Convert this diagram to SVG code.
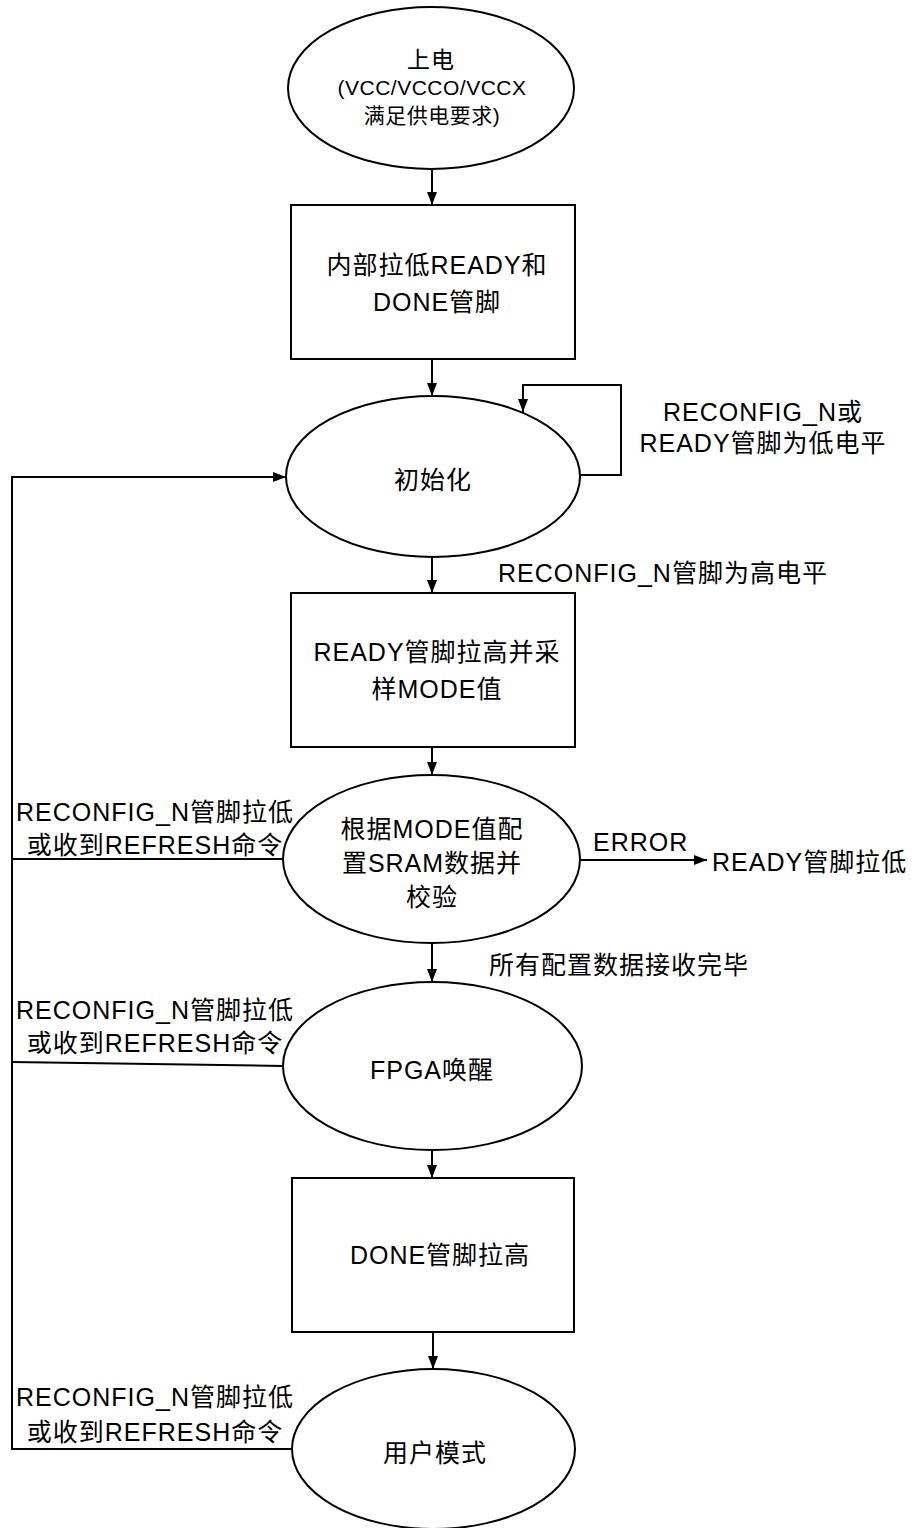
<svg xmlns="http://www.w3.org/2000/svg" width="915" height="1528" viewBox="0 0 915 1528">
<style>
.shape{fill:#fff;stroke:#000;stroke-width:2}
.ln{fill:none;stroke:#000;stroke-width:2}
text{font-family:"Liberation Sans","Noto Sans CJK SC",sans-serif;font-size:25px;letter-spacing:1px;fill:#000}
.c{text-anchor:middle}
.s22{font-size:21px;letter-spacing:0.5px}
</style>
<defs>
<marker id="arr" markerUnits="userSpaceOnUse" markerWidth="14" markerHeight="10" refX="13" refY="5" orient="auto">
<path d="M0,0 L13,5 L0,10 z" fill="#000"/>
</marker>
</defs>
<rect width="915" height="1528" fill="#fff"/>
<g id="connectors">
<line class="ln" x1="432" y1="169" x2="432" y2="205" marker-end="url(#arr)"/>
<line class="ln" x1="432" y1="359" x2="432" y2="396" marker-end="url(#arr)"/>
<polyline class="ln" points="580,475 621,475 621,385 523,385 523,412" marker-end="url(#arr)"/>
<line class="ln" x1="432" y1="557" x2="432" y2="593" marker-end="url(#arr)"/>
<line class="ln" x1="432" y1="747" x2="432" y2="775" marker-end="url(#arr)"/>
<line class="ln" x1="580" y1="860" x2="707" y2="860" marker-end="url(#arr)"/>
<line class="ln" x1="432" y1="943" x2="432" y2="982" marker-end="url(#arr)"/>
<line class="ln" x1="432" y1="1150" x2="432" y2="1178" marker-end="url(#arr)"/>
<line class="ln" x1="433" y1="1332" x2="433" y2="1369" marker-end="url(#arr)"/>
<polyline class="ln" points="292,1449 12,1449 12,477 286,477" marker-end="url(#arr)"/>
<line class="ln" x1="283" y1="859" x2="12" y2="859"/>
<line class="ln" x1="283" y1="1066" x2="12" y2="1062"/>
<text x="763" y="421" class="c">RECONFIG_N或</text>
<text x="763" y="452" class="c">READY管脚为低电平</text>
<text x="498" y="582">RECONFIG_N管脚为高电平</text>
<text x="155" y="821" class="c">RECONFIG_N管脚拉低</text>
<text x="155" y="854" class="c">或收到REFRESH命令</text>
<text x="593" y="851">ERROR</text>
<text x="712" y="871">READY管脚拉低</text>
<text x="489" y="974">所有配置数据接收完毕</text>
<text x="155" y="1019" class="c">RECONFIG_N管脚拉低</text>
<text x="155" y="1052" class="c">或收到REFRESH命令</text>
<text x="155" y="1406" class="c">RECONFIG_N管脚拉低</text>
<text x="155" y="1441" class="c">或收到REFRESH命令</text>
</g>
<g id="power-on">
<ellipse class="shape" cx="431" cy="88" rx="143" ry="81"/>
<text x="431" y="68" class="c" style="font-size:23px">上电</text>
<text x="432" y="95" class="c s22">(VCC/VCCO/VCCX</text>
<text x="432" y="123" class="c s22">满足供电要求)</text>
</g>
<g id="pull-low">
<rect class="shape" x="291" y="205" width="284" height="154"/>
<text x="437" y="274" class="c">内部拉低READY和</text>
<text x="437" y="311" class="c">DONE管脚</text>
</g>
<g id="init">
<ellipse class="shape" cx="433" cy="476.5" rx="147" ry="80.5"/>
<text x="433" y="489" class="c">初始化</text>
</g>
<g id="ready-high">
<rect class="shape" x="291" y="593" width="284" height="154"/>
<text x="437" y="661" class="c">READY管脚拉高并采</text>
<text x="437" y="698" class="c">样MODE值</text>
</g>
<g id="config">
<ellipse class="shape" cx="431.5" cy="859" rx="148.5" ry="84"/>
<text x="432" y="838" class="c">根据MODE值配</text>
<text x="432" y="872" class="c">置SRAM数据并</text>
<text x="432" y="906" class="c">校验</text>
</g>
<g id="wakeup">
<ellipse class="shape" cx="432.5" cy="1066" rx="149.5" ry="84"/>
<text x="432" y="1079" class="c">FPGA唤醒</text>
</g>
<g id="done-high">
<rect class="shape" x="292" y="1178" width="282" height="154"/>
<text x="440" y="1264" class="c">DONE管脚拉高</text>
</g>
<g id="user-mode">
<ellipse class="shape" cx="433.5" cy="1449" rx="141.5" ry="80"/>
<text x="435" y="1462" class="c">用户模式</text>
</g>
</svg>
